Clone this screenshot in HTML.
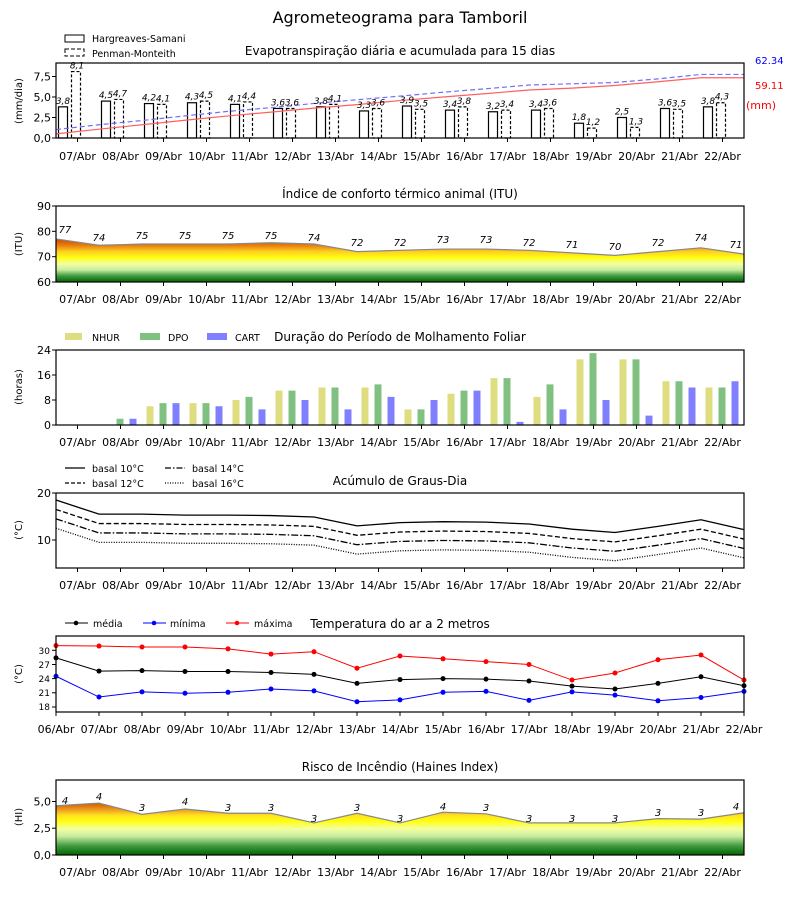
<!DOCTYPE html>
<html><head><meta charset="utf-8"><style>
body{margin:0;background:#fff}
svg{display:block;font-family:"DejaVu Sans","Liberation Sans",sans-serif}
.t{font-size:11px;fill:#000}
.tk{font-size:11px;fill:#000;text-anchor:middle}
.yt{font-size:11px;fill:#000;text-anchor:end}
.lb{font-size:9px;font-style:italic;fill:#000;text-anchor:middle}
.yl{font-size:10px;fill:#000;text-anchor:middle}
.ti{font-size:12px;fill:#000;text-anchor:middle}
</style></head><body>
<svg id="s" width="800" height="900" viewBox="0 0 800 900" xmlns="http://www.w3.org/2000/svg">
<defs>
<linearGradient id="gi" gradientUnits="userSpaceOnUse" x1="0" y1="282" x2="0" y2="206">
<stop offset="0" stop-color="#006400"/><stop offset="0.08" stop-color="#3f9a3f"/><stop offset="0.16" stop-color="#c8eca0"/><stop offset="0.24" stop-color="#f4ffa0"/><stop offset="0.32" stop-color="#ffff10"/><stop offset="0.4" stop-color="#ffd020"/><stop offset="0.48" stop-color="#e88010"/><stop offset="0.55" stop-color="#d85000"/><stop offset="0.6" stop-color="#cc0000"/><stop offset="1" stop-color="#cc0000"/>
</linearGradient>
<linearGradient id="gh" gradientUnits="userSpaceOnUse" x1="0" y1="855" x2="0" y2="780">
<stop offset="0" stop-color="#006400"/><stop offset="0.12" stop-color="#3f9a3f"/><stop offset="0.25" stop-color="#c8eca0"/><stop offset="0.35" stop-color="#f4ffa0"/><stop offset="0.45" stop-color="#ffff10"/><stop offset="0.53" stop-color="#ffe020"/><stop offset="0.6" stop-color="#f0a020"/><stop offset="0.68" stop-color="#d86000"/><stop offset="0.75" stop-color="#cc2000"/><stop offset="1" stop-color="#cc0000"/>
</linearGradient>
</defs>
<text x="400" y="23" style="font-size:16px" text-anchor="middle">Agrometeograma para Tamboril</text>
<g id="shapes"></g>

<!-- Panel 1 -->
<text class="ti" x="400" y="55">Evapotranspiração diária e acumulada para 15 dias</text>
<rect x="65" y="35" width="19" height="7" fill="none" stroke="#000"/>
<rect x="65" y="49" width="19" height="7" fill="none" stroke="#000" stroke-dasharray="4,2"/>
<text x="92" y="42" style="font-size:9.5px">Hargreaves-Samani</text>
<text x="92" y="57" style="font-size:9.5px">Penman-Monteith</text>
<text x="755" y="64" style="font-size:10px;fill:#0000ff">62.34</text>
<text x="755" y="89" style="font-size:10px;fill:#ff0000">59.11</text>
<text x="746" y="109" style="font-size:11px;fill:#ff0000">(mm)</text>
<text class="yt" x="51" y="142">0,0</text><text class="yt" x="51" y="121.5">2,5</text><text class="yt" x="51" y="101">5,0</text><text class="yt" x="51" y="80.5">7,5</text>
<text class="yl" transform="translate(22,101) rotate(-90)">(mm/dia)</text>
<g class="lb">
<text x="63" y="103.8">3,8</text><text x="106" y="98.1">4,5</text><text x="149" y="100.6">4,2</text><text x="192" y="99.7">4,3</text><text x="235" y="101.4">4,1</text><text x="278" y="105.5">3,6</text><text x="321" y="103.8">3,8</text><text x="364" y="107.9">3,3</text><text x="407" y="103">3,9</text><text x="450" y="107.1">3,4</text><text x="493" y="108.8">3,2</text><text x="536" y="107.1">3,4</text><text x="579" y="120.2">1,8</text><text x="622" y="114.5">2,5</text><text x="665" y="105.5">3,6</text><text x="708" y="103.8">3,8</text>
<text x="77" y="68.6">8,1</text><text x="120" y="96.5">4,7</text><text x="163" y="101.4">4,1</text><text x="206" y="98.1">4,5</text><text x="249" y="98.9">4,4</text><text x="292" y="105.5">3,6</text><text x="335" y="101.4">4,1</text><text x="378" y="105.5">3,6</text><text x="421" y="106.3">3,5</text><text x="464" y="103.8">3,8</text><text x="507" y="107.1">3,4</text><text x="550" y="105.5">3,6</text><text x="593" y="125.2">1,2</text><text x="636" y="124.3">1,3</text><text x="679" y="106.3">3,5</text><text x="722" y="99.7">4,3</text>
</g>
<g class="tk">
<text x="77.5" y="160">07/Abr</text><text x="120.5" y="160">08/Abr</text><text x="163.5" y="160">09/Abr</text><text x="206.5" y="160">10/Abr</text><text x="249.5" y="160">11/Abr</text><text x="292.5" y="160">12/Abr</text><text x="335.5" y="160">13/Abr</text><text x="378.5" y="160">14/Abr</text><text x="421.5" y="160">15/Abr</text><text x="464.5" y="160">16/Abr</text><text x="507.5" y="160">17/Abr</text><text x="550.5" y="160">18/Abr</text><text x="593.5" y="160">19/Abr</text><text x="636.5" y="160">20/Abr</text><text x="679.5" y="160">21/Abr</text><text x="722.5" y="160">22/Abr</text>
</g>

<!-- Panel 2 ITU -->
<text class="ti" x="400" y="198">Índice de conforto térmico animal (ITU)</text>
<text class="yt" x="51" y="286">60</text><text class="yt" x="51" y="260.7">70</text><text class="yt" x="51" y="235.3">80</text><text class="yt" x="51" y="210">90</text>
<text class="yl" transform="translate(22,244) rotate(-90)">(ITU)</text>
<g class="lb" style="font-size:10px">
<text x="65" y="233">77</text><text x="99" y="241">74</text><text x="142" y="239">75</text><text x="185" y="239">75</text><text x="228" y="239">75</text><text x="271" y="239">75</text><text x="314" y="241">74</text><text x="357" y="246">72</text><text x="400" y="246">72</text><text x="443" y="243">73</text><text x="486" y="243">73</text><text x="529" y="246">72</text><text x="572" y="248">71</text><text x="615" y="250">70</text><text x="658" y="246">72</text><text x="701" y="241">74</text><text x="736" y="248">71</text>
</g>
<g class="tk">
<text x="77.5" y="303">07/Abr</text><text x="120.5" y="303">08/Abr</text><text x="163.5" y="303">09/Abr</text><text x="206.5" y="303">10/Abr</text><text x="249.5" y="303">11/Abr</text><text x="292.5" y="303">12/Abr</text><text x="335.5" y="303">13/Abr</text><text x="378.5" y="303">14/Abr</text><text x="421.5" y="303">15/Abr</text><text x="464.5" y="303">16/Abr</text><text x="507.5" y="303">17/Abr</text><text x="550.5" y="303">18/Abr</text><text x="593.5" y="303">19/Abr</text><text x="636.5" y="303">20/Abr</text><text x="679.5" y="303">21/Abr</text><text x="722.5" y="303">22/Abr</text>
</g>

<!-- Panel 3 wetness -->
<text class="ti" x="400" y="341">Duração do Período de Molhamento Foliar</text>
<rect x="65" y="333" width="17" height="7" fill="#dede80"/><text x="92" y="341" style="font-size:9.5px">NHUR</text>
<rect x="140" y="333" width="20" height="7" fill="#80c080"/><text x="168" y="341" style="font-size:9.5px">DPO</text>
<rect x="207" y="333" width="20" height="7" fill="#8080ff"/><text x="235" y="341" style="font-size:9.5px">CART</text>
<text class="yt" x="51" y="429">0</text><text class="yt" x="51" y="404">8</text><text class="yt" x="51" y="379">16</text><text class="yt" x="51" y="354">24</text>
<text class="yl" transform="translate(22,387) rotate(-90)">(horas)</text>
<g class="tk">
<text x="77.5" y="446">07/Abr</text><text x="120.5" y="446">08/Abr</text><text x="163.5" y="446">09/Abr</text><text x="206.5" y="446">10/Abr</text><text x="249.5" y="446">11/Abr</text><text x="292.5" y="446">12/Abr</text><text x="335.5" y="446">13/Abr</text><text x="378.5" y="446">14/Abr</text><text x="421.5" y="446">15/Abr</text><text x="464.5" y="446">16/Abr</text><text x="507.5" y="446">17/Abr</text><text x="550.5" y="446">18/Abr</text><text x="593.5" y="446">19/Abr</text><text x="636.5" y="446">20/Abr</text><text x="679.5" y="446">21/Abr</text><text x="722.5" y="446">22/Abr</text>
</g>

<!-- Panel 4 degree days -->
<text class="ti" x="400" y="485">Acúmulo de Graus-Dia</text>
<line x1="65" y1="468" x2="85" y2="468" stroke="#000" stroke-width="1.3"/><text x="92" y="472" style="font-size:9.5px">basal 10°C</text>
<line x1="65" y1="483" x2="85" y2="483" stroke="#000" stroke-width="1.3" stroke-dasharray="4,2"/><text x="92" y="487" style="font-size:9.5px">basal 12°C</text>
<line x1="165" y1="468" x2="185" y2="468" stroke="#000" stroke-width="1.3" stroke-dasharray="6,2,1.5,2"/><text x="192" y="472" style="font-size:9.5px">basal 14°C</text>
<line x1="165" y1="483" x2="185" y2="483" stroke="#000" stroke-width="1.3" stroke-dasharray="1,1.5"/><text x="192" y="487" style="font-size:9.5px">basal 16°C</text>
<text class="yt" x="51" y="544">10</text><text class="yt" x="51" y="497">20</text>
<text class="yl" transform="translate(22,530) rotate(-90)">(°C)</text>
<g class="tk">
<text x="77.5" y="589">07/Abr</text><text x="120.5" y="589">08/Abr</text><text x="163.5" y="589">09/Abr</text><text x="206.5" y="589">10/Abr</text><text x="249.5" y="589">11/Abr</text><text x="292.5" y="589">12/Abr</text><text x="335.5" y="589">13/Abr</text><text x="378.5" y="589">14/Abr</text><text x="421.5" y="589">15/Abr</text><text x="464.5" y="589">16/Abr</text><text x="507.5" y="589">17/Abr</text><text x="550.5" y="589">18/Abr</text><text x="593.5" y="589">19/Abr</text><text x="636.5" y="589">20/Abr</text><text x="679.5" y="589">21/Abr</text><text x="722.5" y="589">22/Abr</text>
</g>

<!-- Panel 5 temperature -->
<text class="ti" x="400" y="628">Temperatura do ar a 2 metros</text>
<line x1="65" y1="623" x2="88" y2="623" stroke="#000"/><circle cx="76" cy="623" r="2.3" fill="#000"/><text x="93" y="627" style="font-size:9.5px">média</text>
<line x1="143" y1="623" x2="166" y2="623" stroke="#00f"/><circle cx="154" cy="623" r="2.3" fill="#00f"/><text x="170" y="627" style="font-size:9.5px">mínima</text>
<line x1="226" y1="623" x2="249" y2="623" stroke="#f00"/><circle cx="237" cy="623" r="2.3" fill="#f00"/><text x="254" y="627" style="font-size:9.5px">máxima</text>
<g class="yt" style="font-size:9px"><text x="50" y="710">18</text><text x="50" y="696">21</text><text x="50" y="682">24</text><text x="50" y="668">27</text><text x="50" y="654">30</text></g>
<text class="yl" transform="translate(22,674) rotate(-90)">(°C)</text>
<g class="tk">
<text x="56" y="733">06/Abr</text><text x="99" y="733">07/Abr</text><text x="142" y="733">08/Abr</text><text x="185" y="733">09/Abr</text><text x="228" y="733">10/Abr</text><text x="271" y="733">11/Abr</text><text x="314" y="733">12/Abr</text><text x="357" y="733">13/Abr</text><text x="400" y="733">14/Abr</text><text x="443" y="733">15/Abr</text><text x="486" y="733">16/Abr</text><text x="529" y="733">17/Abr</text><text x="572" y="733">18/Abr</text><text x="615" y="733">19/Abr</text><text x="658" y="733">20/Abr</text><text x="701" y="733">21/Abr</text><text x="744" y="733">22/Abr</text>
</g>

<!-- Panel 6 Haines -->
<text class="ti" x="400" y="771">Risco de Incêndio (Haines Index)</text>
<text class="yt" x="51" y="859">0,0</text><text class="yt" x="51" y="832">2,5</text><text class="yt" x="51" y="805.5">5,0</text>
<text class="yl" transform="translate(22,817) rotate(-90)">(HI)</text>
<g class="lb" style="font-size:10px">
<text x="65" y="804">4</text><text x="99" y="800">4</text><text x="142" y="811">3</text><text x="185" y="805">4</text><text x="228" y="811">3</text><text x="271" y="811">3</text><text x="314" y="822">3</text><text x="357" y="811">3</text><text x="400" y="822">3</text><text x="443" y="810">4</text><text x="486" y="811">3</text><text x="529" y="822">3</text><text x="572" y="822">3</text><text x="615" y="822">3</text><text x="658" y="816">3</text><text x="701" y="816">3</text><text x="736" y="810">4</text>
</g>
<g class="tk">
<text x="77.5" y="876">07/Abr</text><text x="120.5" y="876">08/Abr</text><text x="163.5" y="876">09/Abr</text><text x="206.5" y="876">10/Abr</text><text x="249.5" y="876">11/Abr</text><text x="292.5" y="876">12/Abr</text><text x="335.5" y="876">13/Abr</text><text x="378.5" y="876">14/Abr</text><text x="421.5" y="876">15/Abr</text><text x="464.5" y="876">16/Abr</text><text x="507.5" y="876">17/Abr</text><text x="550.5" y="876">18/Abr</text><text x="593.5" y="876">19/Abr</text><text x="636.5" y="876">20/Abr</text><text x="679.5" y="876">21/Abr</text><text x="722.5" y="876">22/Abr</text>
</g>
</svg>
<script>
(function(){
var g=document.getElementById('shapes'),NS='http://www.w3.org/2000/svg';
function el(n,a){var e=document.createElementNS(NS,n);for(var k in a)e.setAttribute(k,a[k]);g.appendChild(e);return e;}
function pts(xs,ys){return xs.map(function(x,i){return x+','+ys[i]}).join(' ');}
var c=[],X=[];for(var k=0;k<16;k++)c.push(77.5+43*k);for(k=0;k<17;k++)X.push(56+43*k);
function axes(top,bot,ticksX,yt){
  ticksX.forEach(function(x){el('line',{x1:x,y1:bot,x2:x,y2:bot+4,stroke:'#000'});});
  yt.forEach(function(y){el('line',{x1:52,y1:y,x2:56,y2:y,stroke:'#000'});});
  el('rect',{x:56,y:top,width:688,height:bot-top,fill:'none',stroke:'#000','stroke-width':1.2});
}
// Panel 1
var HS=[3.8,4.5,4.2,4.3,4.1,3.6,3.8,3.3,3.9,3.4,3.2,3.4,1.8,2.5,3.6,3.8];
var PM=[8.1,4.7,4.1,4.5,4.4,3.6,4.1,3.6,3.5,3.8,3.4,3.6,1.2,1.3,3.5,4.3];
HS.forEach(function(v,i){el('rect',{x:c[i]-19,y:138-v*8.2,width:9,height:v*8.2,fill:'#fff',stroke:'#000','stroke-width':1.2});});
PM.forEach(function(v,i){el('rect',{x:c[i]-6,y:138-v*8.2,width:9,height:v*8.2,fill:'#fff',stroke:'#000','stroke-width':1.2,'stroke-dasharray':'3,2'});});
var sh=0,sp=0,yr=[],yb=[],xs=[];
HS.forEach(function(v,i){sh+=v*59.11/57.2;sp+=PM[i];xs.push(56+43*i);yr.push(137.9-1.018*sh);yb.push(137.9-1.018*sp*62.34/61.7);});
xs.push(744);yr.push(yr[15]);yb.push(yb[15]);
el('polyline',{points:pts(xs,yr),fill:'none',stroke:'#ff6060','stroke-width':1.2});
el('polyline',{points:pts(xs,yb),fill:'none',stroke:'#7070ff','stroke-width':1.2,'stroke-dasharray':'5,3'});
axes(63,138,c,[138,117.5,97,76.5]);
// Panel 2 ITU
var IT=[77,74.5,75,75,75,75.5,75,72,72.5,73,73,72.5,71.5,70.5,72,73.5,71];
var yi=IT.map(function(v){return 282-(v-60)*2.533});
el('polygon',{points:pts(X,yi)+' 744,282 56,282',fill:'url(#gi)'});
el('polyline',{points:pts(X,yi),fill:'none',stroke:'#888','stroke-width':1.2});
axes(206,282,c,[282,256.7,231.3,206]);
// Panel 3 wetness
var W=[[0,0,0],[0,2,2],[6,7,7],[7,7,6],[8,9,5],[11,11,8],[12,12,5],[12,13,9],[5,5,8],[10,11,11],[15,15,1],[9,13,5],[21,23,8],[21,21,3],[14,14,12],[12,12,14]];
var col=['#dede80','#80c080','#8080ff'],off=[-17,-4,9];
W.forEach(function(d,i){d.forEach(function(v,j){if(v>0)el('rect',{x:c[i]+off[j],y:425-3.125*v,width:7,height:3.125*v,fill:col[j]});});});
axes(350,425,c,[425,400,375,350]);
// Panel 4 degree days
var D=[18.5,15.5,15.5,15.3,15.3,15.2,14.9,13.0,13.7,13.9,13.8,13.4,12.3,11.6,12.9,14.3,12.2];
var da=[null,'5,2.5','7,2,1.5,2','1,1.5'];
for(var b=0;b<4;b++){var yy=D.map(function(v){return 587-4.7*(v-2*b)});var a={points:pts(X,yy),fill:'none',stroke:'#000','stroke-width':1.3};if(da[b])a['stroke-dasharray']=da[b];el('polyline',a);}
axes(493,568,c,[540,493]);
// Panel 5 temperature
var T={'#000':[28.4,25.6,25.7,25.5,25.5,25.3,24.9,23.0,23.8,24.0,23.9,23.5,22.4,21.8,23.0,24.4,22.5],
'#00f':[24.5,20.1,21.2,20.9,21.1,21.8,21.4,19.1,19.5,21.1,21.3,19.4,21.2,20.5,19.3,20.0,21.3],
'#f00':[31.0,30.9,30.7,30.7,30.3,29.2,29.7,26.2,28.8,28.2,27.6,27.0,23.7,25.2,28.0,29.0,23.7]};
for(var k2 in T){var yy2=T[k2].map(function(v){return 791.9-4.72*v});el('polyline',{points:pts(X,yy2),fill:'none',stroke:k2,'stroke-width':1});yy2.forEach(function(y,i){el('circle',{cx:X[i],cy:y,r:2.5,fill:k2});});}
axes(636,712,X,[707,692.8,678.6,664.5,650.3]);
// Panel 6 Haines
var H=[4.6,4.85,3.8,4.3,3.9,3.9,3.0,3.9,3.0,4.0,3.85,3.0,3.0,3.0,3.4,3.35,3.95];
var yh=H.map(function(v){return 855-10.7*v});
el('polygon',{points:pts(X,yh)+' 744,855 56,855',fill:'url(#gh)'});
el('polyline',{points:pts(X,yh),fill:'none',stroke:'#888','stroke-width':1.2});
axes(780,855,c,[855,828.2,801.5]);
})();
</script>
</body></html>
